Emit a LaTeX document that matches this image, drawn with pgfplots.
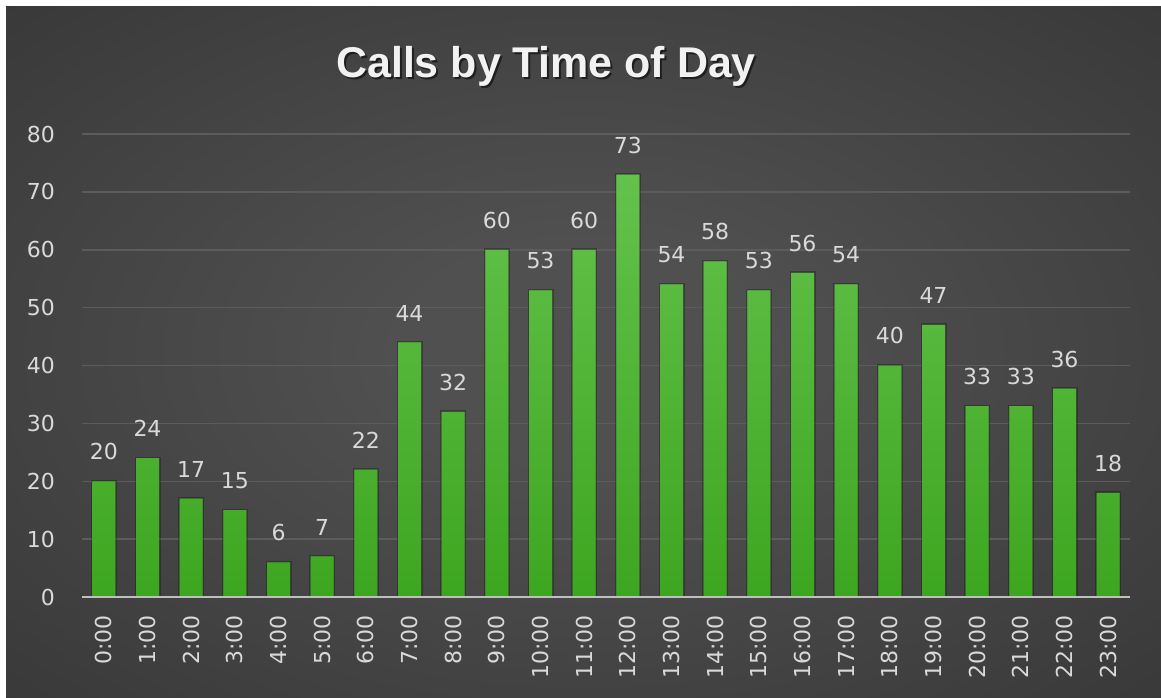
\documentclass[border=0pt]{standalone}
\usepackage{fontspec}
\usepackage{pgfplots}
\pgfplotsset{compat=1.18}
\setmainfont{DejaVu Sans}
\newfontfamily\titlefont{Liberation Sans}
\definecolor{bgin}{HTML}{505050}
\definecolor{bgout}{HTML}{232323}
\definecolor{gridc}{HTML}{5C5C5C}
\definecolor{axisc}{HTML}{BFBFBF}
\definecolor{labc}{HTML}{D9D9D9}
\definecolor{bartop}{HTML}{64C24C}
\definecolor{barbot}{HTML}{3DA620}
\pgfdeclareradialshading{bgshade}{\pgfpoint{0bp}{0bp}}{color(0bp)=(bgin); color(8bp)=(bgin); color(62bp)=(bgout); color(80bp)=(bgout)}
\begin{document}
\begin{tikzpicture}[x=1pt,y=1pt]
\useasboundingbox (0,0) rectangle (1161,698);
\fill[white] (0,0) rectangle (1161,698);
\shade[shading=bgshade] (6,0) rectangle (1161,691);
\node[anchor=base, text=black, opacity=0.55, font=\titlefont\bfseries\fontsize{43}{50}\selectfont] at (548,618) {Calls by Time of Day};
\node[anchor=base, text=white!95!black, font=\titlefont\bfseries\fontsize{43}{50}\selectfont] at (546,620) {Calls by Time of Day};
\begin{axis}[
  at={(82pt,101pt)}, anchor=south west,
  scale only axis, width=1048pt, height=463pt,
  xmin=-0.5, xmax=23.5, ymin=0, ymax=80,
  ytick={0,10,...,80},
  xtick={0,1,...,23},
  xticklabels={0:00,1:00,2:00,3:00,4:00,5:00,6:00,7:00,8:00,9:00,10:00,11:00,12:00,13:00,14:00,15:00,16:00,17:00,18:00,19:00,20:00,21:00,22:00,23:00},
  ymajorgrids, grid style={color=gridc, line width=1.5pt},
  axis line style={draw=none},
  major tick length=0pt,
  /pgf/number format/assume math mode=true,
  tick label style={font=\fontsize{22}{26}\selectfont, text=labc},
  yticklabel style={anchor=east, inner sep=0pt, xshift=-27pt},
  xticklabel style={yshift=-18pt, rotate=90, anchor=east, inner sep=0pt},
  ybar, bar width=23pt,
  nodes near coords,
  every node near coord/.append style={font=\fontsize{22}{26}\selectfont, text=labc, anchor=south, inner sep=0pt, yshift=21pt},
  clip=false,
]
\addplot[draw=none, top color=bartop, bottom color=barbot,
  preaction={draw=black, draw opacity=0.25, line width=3pt}]
  coordinates {(0,20) (1,24) (2,17) (3,15) (4,6) (5,7) (6,22) (7,44) (8,32) (9,60) (10,53) (11,60) (12,73) (13,54) (14,58) (15,53) (16,56) (17,54) (18,40) (19,47) (20,33) (21,33) (22,36) (23,18)};
\draw[axisc, line width=2.5pt] (axis cs:-0.5,0) -- (axis cs:23.5,0);
\end{axis}
\end{tikzpicture}
\end{document}
